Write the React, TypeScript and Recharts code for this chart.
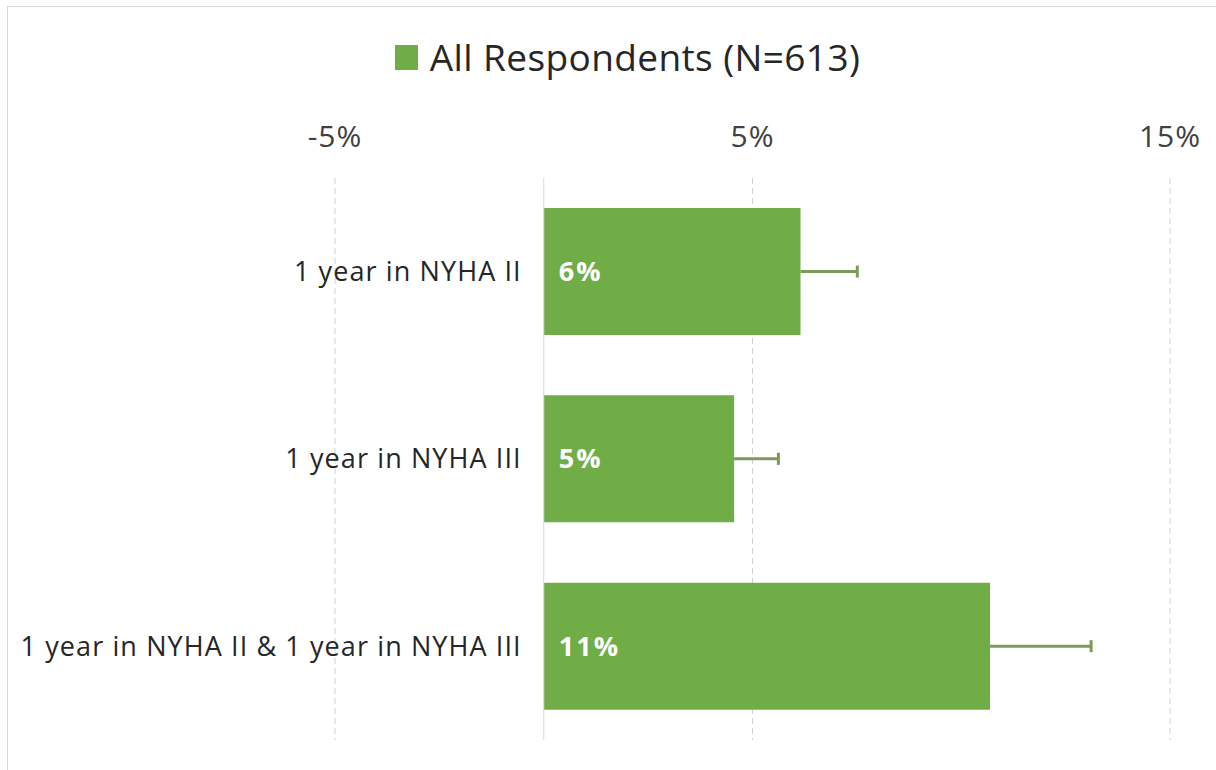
import React from "react";
import {
  BarChart,
  Bar,
  XAxis,
  YAxis,
  CartesianGrid,
  LabelList,
  ReferenceLine,
} from "recharts";

const categories = [
  "1 year in NYHA II",
  "1 year in NYHA III",
  "1 year in NYHA II & 1 year in NYHA III",
];
const values = [6.15, 4.56, 10.69];
const errorPlus = [1.36, 1.06, 2.42];
const xTicks = [-5, 5, 15];
const seriesName = "All Respondents (N=613)";

const data = categories.map((name, i) => ({
  name,
  value: values[i],
  errPlus: errorPlus[i],
}));

const FONT = "'Open Sans', Lato, sans-serif";
const GREEN = "#70AD47";
const ERR = "#7d9a58";

const ErrorShape = (props: any) => {
  const { x, y, width, height } = props;
  const cy = y + height / 2;
  return (
    <g>
      <line x1={x} y1={cy} x2={x + width} y2={cy} stroke={ERR} strokeWidth={3} />
      <line
        x1={x + width}
        y1={cy - 6}
        x2={x + width}
        y2={cy + 6}
        stroke={ERR}
        strokeWidth={3}
      />
    </g>
  );
};

export default function App() {
  return (
    <div
      style={{
        position: "fixed",
        left: 0,
        top: 0,
        width: 1216,
        height: 770,
        overflow: "hidden",
        background: "#fff",
        fontFamily: FONT,
      }}
    >
      <div
        style={{
          position: "absolute",
          left: 7,
          top: 6,
          width: 1230,
          height: 790,
          border: "1px solid #d9d9d9",
        }}
      />
      <div
        style={{
          position: "absolute",
          top: 32,
          left: 0,
          width: 1255,
          display: "flex",
          justifyContent: "center",
          alignItems: "center",
          fontSize: 37,
          letterSpacing: 0.4,
          color: "#262626",
          lineHeight: "50px",
        }}
      >
        <span
          style={{
            display: "inline-block",
            width: 23,
            height: 25,
            background: GREEN,
            marginRight: 12,
          }}
        />
        <span>{seriesName}</span>
      </div>
      <div style={{ position: "absolute", left: 0, top: 0 }}>
        <BarChart
          width={1216}
          height={770}
          data={data}
          layout="vertical"
          margin={{ top: 138, right: 46, bottom: 30, left: 335 }}
          barSize={127}
        >
          <CartesianGrid
            horizontal={false}
            vertical={true}
            stroke="#d0d0d0"
            strokeDasharray="6 4"
          />
          <XAxis
            type="number"
            orientation="top"
            domain={[-5, 15]}
            ticks={xTicks}
            axisLine={false}
            tickLine={false}
            height={40}
            tickMargin={25}
            tickFormatter={(v: number) => `${v}%`}
            tick={{
              fontSize: 30,
              fill: "#404040",
              fontFamily: FONT,
              letterSpacing: 1,
            }}
          />
          <YAxis type="category" dataKey="name" hide />
          <ReferenceLine x={0} stroke="#d9d9d9" />
          <Bar
            dataKey="value"
            stackId="a"
            fill={GREEN}
            isAnimationActive={false}
          >
            <LabelList
              dataKey="name"
              position="left"
              offset={22}
              style={{
                fontSize: 27,
                fill: "#262626",
                fontFamily: FONT,
                letterSpacing: 1.1,
              }}
            />
            <LabelList
              dataKey="value"
              position="insideLeft"
              offset={15}
              formatter={(v: number) => `${Math.round(v)}%`}
              style={{
                fontSize: 27,
                fill: "#ffffff",
                fontWeight: 700,
                fontFamily: FONT,
                letterSpacing: 2,
              }}
            />
          </Bar>
          <Bar
            dataKey="errPlus"
            stackId="a"
            shape={ErrorShape}
            isAnimationActive={false}
          />
        </BarChart>
      </div>
    </div>
  );
}
